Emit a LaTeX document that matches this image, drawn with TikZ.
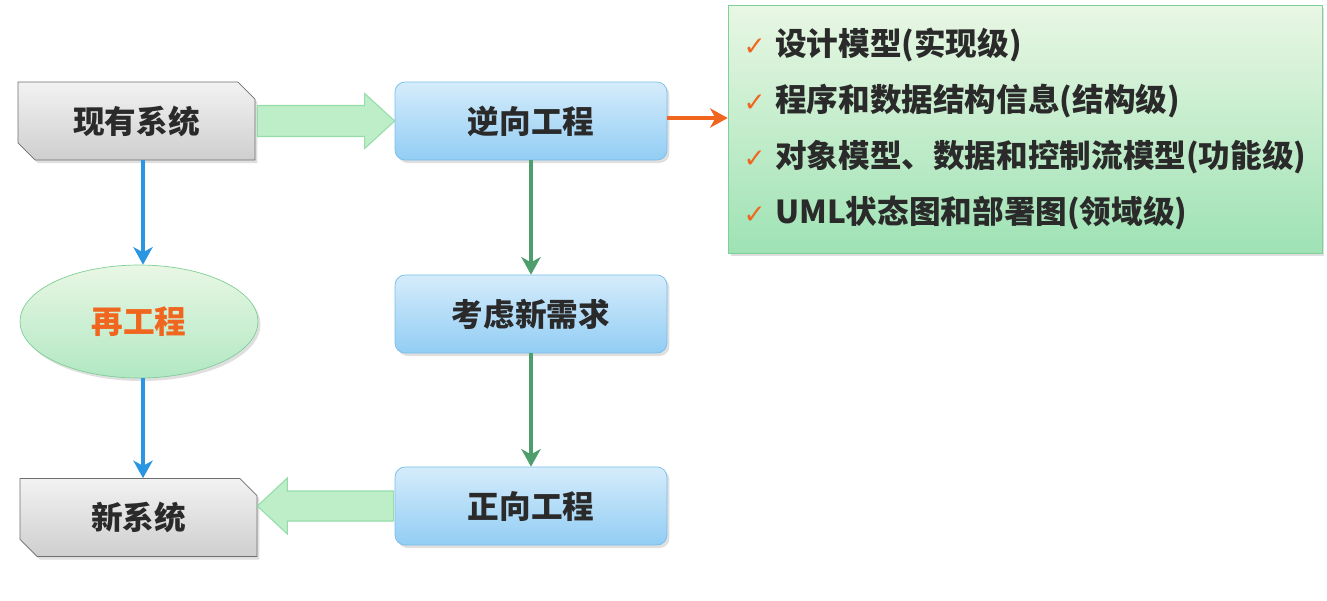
\documentclass[tikz,border=0pt]{standalone}
\usepackage{fontspec}
\setmainfont{Noto Sans CJK SC}
\newfontfamily\symfont{DejaVu Sans}
\usetikzlibrary{calc, positioning, shapes.misc, shapes.geometric, shadows, arrows.meta}

\definecolor{txtdark}{HTML}{2A2A2A}
\definecolor{grayedge}{HTML}{6E6E6E}
\definecolor{bluetop}{HTML}{D5ECFB}
\definecolor{bluebot}{HTML}{92CDF4}
\definecolor{blueedge}{HTML}{78BDE8}
\definecolor{greentop}{HTML}{E9F7E4}
\definecolor{greenbot}{HTML}{9EE2B4}
\definecolor{greenedge}{HTML}{7FCF98}
\definecolor{mintfill}{HTML}{BDEEC8}
\definecolor{mintedge}{HTML}{94DCA8}
\definecolor{flowblue}{HTML}{2A95E0}
\definecolor{flowgreen}{HTML}{4D9E6C}
\definecolor{floworange}{HTML}{F0661E}

\newcommand{\chk}{{\symfont\fontsize{15}{15}\selectfont\color{floworange}✓}\hspace{0.3em}}

\begin{document}
\begin{tikzpicture}[x=0.02cm, y=-0.02cm,
  font=\fontsize{18}{22}\selectfont\bfseries,
  shade1/.style={drop shadow={opacity=0.25, shadow xshift=0.05cm, shadow yshift=-0.06cm}},
  sysbox/.style={chamfered rectangle, chamfered rectangle corners={north east, south west},
    chamfered rectangle xsep=0.17cm, chamfered rectangle ysep=0.17cm,
    draw=grayedge, top color=gray!10, bottom color=gray!38,
    minimum width=4.74cm, minimum height=1.56cm, text=txtdark, shade1},
  procbox/.style={rectangle, rounded corners=0.2cm, draw=blueedge,
    top color=bluetop, bottom color=bluebot,
    minimum width=5.44cm, minimum height=1.56cm, text=txtdark, shade1},
  listbox/.style={rectangle, draw=greenedge, top color=greentop, bottom color=greenbot,
    minimum width=11.88cm, minimum height=4.96cm, align=left, text=txtdark,
    font=\fontsize{18}{32}\selectfont\bfseries, shade1},
  blockarr/.style={draw=mintedge, fill=mintfill, line width=0.6pt},
  bluearr/.style={draw=flowblue, line width=2pt, -{Stealth[length=10pt, width=11pt, inset=3pt]}},
  greenarr/.style={draw=flowgreen, line width=2pt, -{Stealth[length=10pt, width=11pt, inset=3pt]}},
  orangearr/.style={draw=floworange, line width=2pt, -{Stealth[length=10pt, width=11pt, inset=3pt]}}
]
\useasboundingbox (0,0) rectangle (1327,600);

% Systems
\node[sysbox] (exist) at (136.5,121) {现有系统};
\node[sysbox] (newsys) at (138.5,517.5) {新系统};
\node[ellipse, draw=greenedge, top color=greentop, bottom color=greenbot!80,
  minimum width=4.76cm, minimum height=2.26cm, text=floworange, shade1] (reeng) at (139,321.5) {再工程};

% Process steps
\node[procbox] (rev) at (531,121) {逆向工程};
\node[procbox] (req) at (531,314) {考虑新需求};
\node[procbox] (fwd) at (531,506) {正向工程};

% Recovered information
\node[listbox] (list) at (1025,129) {\chk 设计模型(实现级)\\
  \chk 程序和数据结构信息(结构级)\\
  \chk 对象模型、数据和控制流模型(功能级)\\
  \chk UML状态图和部署图(领域级)};

% Block arrows
\draw[blockarr] ($(exist.east)+(2,-15.5)$) -- ($(rev.west)+(-30,-15.5)$)
  -- ($(rev.west)+(-30,-27.5)$) -- (rev.west) -- ($(rev.west)+(-30,27.5)$)
  -- ($(rev.west)+(-30,15.5)$) -- ($(exist.east)+(2,15.5)$) -- cycle;
\draw[blockarr] ($(fwd.west)+(-1,-15)$) -- ($(newsys.east |- fwd.west)+(30,-15)$)
  -- ($(newsys.east |- fwd.west)+(30,-28)$) -- (newsys.east |- fwd.west)
  -- ($(newsys.east |- fwd.west)+(30,28)$) -- ($(newsys.east |- fwd.west)+(30,15)$)
  -- ($(fwd.west)+(-1,15)$) -- cycle;

% Flow arrows
\draw[bluearr] ([xshift=0.08cm]exist.south -| reeng.north) -- ([xshift=0.08cm]reeng.north);
\draw[bluearr] ([xshift=0.08cm]reeng.south) -- ([xshift=0.08cm]newsys.north -| reeng.south);
\draw[greenarr] (rev.south) -- (req.north);
\draw[greenarr] (req.south) -- (fwd.north);
\draw[orangearr] ([yshift=0.06cm]rev.east) -- ([yshift=0.06cm]rev.east -| list.west);
\end{tikzpicture}
\end{document}
